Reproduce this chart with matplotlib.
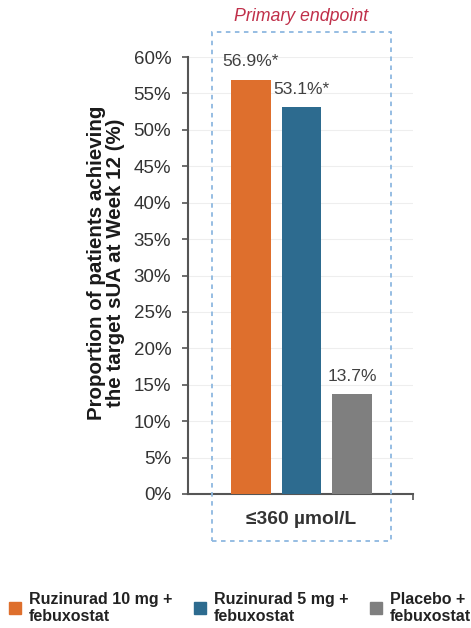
import matplotlib.pyplot as plt
import matplotlib.patches as mpatches
import matplotlib.transforms as mtransforms

plt.rcParams['font.family'] = ['Liberation Sans', 'DejaVu Sans']

# ---- data ----
groups = ["Ruzinurad 10 mg +\nfebuxostat", "Ruzinurad 5 mg +\nfebuxostat", "Placebo +\nfebuxostat"]
values = [56.9, 53.1, 13.7]
labels = ["56.9%*", "53.1%*", "13.7%"]
colors = ["#DE6F2D", "#2D6B8F", "#7F7F7F"]
category = "≤360 µmol/L"
yticks = list(range(0, 61, 5))

fig = plt.figure(figsize=(4.71, 6.28), dpi=100)
ax = fig.add_axes([0.399, 0.2134, 0.478, 0.6958])

xs = [0, 1, 2]
ax.bar(xs, values, width=0.78, color=colors, zorder=3)

for x, v, lab in zip(xs, values, labels):
    ax.text(x, v + 2.5, lab, ha="center", va="center",
            fontsize=12.6, color="#404040")

ax.set_xlim(-1.25, 3.21)
ax.set_ylim(0, 60)
ax.set_yticks(yticks)
ax.set_yticklabels([f"{t}%" for t in yticks], fontsize=13.5, color="#333333")
ax.set_xticks([1])
ax.set_xticklabels([category], fontsize=13.8, fontweight="bold", color="#333333")
ax.set_xticks([3.21], minor=True)
ax.tick_params(axis="x", which="major", length=0, pad=12)
ax.tick_params(axis="x", which="minor", length=4, width=1.2, color="#555555")
ax.tick_params(axis="y", length=4, width=1.2, color="#555555", pad=8)

ax.grid(axis="y", color="#eeeeee", linewidth=0.8, zorder=0)
for s in ["top", "right"]:
    ax.spines[s].set_visible(False)
for s in ["left", "bottom"]:
    ax.spines[s].set_color("#555555")
    ax.spines[s].set_linewidth(1.5)

ax.set_ylabel("Proportion of patients achieving\nthe target sUA at Week 12 (%)",
              fontsize=14.8, fontweight="bold", color="#1a1a1a",
              linespacing=1.0)
ax.yaxis.set_label_coords(-0.28, 0.529)

# dashed box around primary endpoint
trans = mtransforms.blended_transform_factory(ax.transData, fig.transFigure)
box = mpatches.Rectangle((-0.77, 0.1385), 3.54, 0.8105, transform=trans,
                         fill=False, edgecolor="#8DB8E0", linestyle=(0, (2.5, 2.5)),
                         linewidth=1.3, clip_on=False)
fig.add_artist(box)
fig.text(ax.transData.transform((1, 0))[0] / fig.bbox.width, 0.973, "Primary endpoint",
         ha="center", va="center", fontsize=12.8, style="italic", color="#C0304A")

handles = [mpatches.Patch(color=c) for c in colors]
fig.legend(handles, groups, loc="upper left", bbox_to_anchor=(0.005, 0.068),
           ncol=3, frameon=False, prop={"weight": "bold", "size": 11.5},
           handlelength=0.75, handleheight=0.75, handletextpad=0.5,
           columnspacing=1.35, borderaxespad=0, labelcolor="#222222",
           labelspacing=0.2)

fig.savefig("out.png", dpi=100)
